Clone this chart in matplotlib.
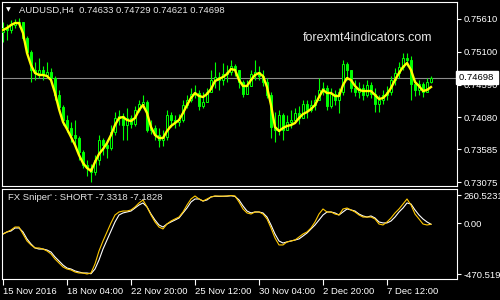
import numpy as np
import matplotlib.pyplot as plt

# AUDUSD H4 candles
first_open = 0.75407
close = [0.75470, 0.75439, 0.75516, 0.75547, 0.75563, 0.75314, 0.75096, 0.74817, 0.74770, 0.74817,
         0.74739, 0.74785, 0.74692, 0.74428, 0.74241, 0.74039, 0.73915, 0.73806, 0.73759, 0.73541,
         0.73339, 0.73293, 0.73230, 0.73417, 0.73728, 0.73650, 0.73604, 0.73852, 0.74070, 0.74101,
         0.73961, 0.74070, 0.73977, 0.74195, 0.74288, 0.74319, 0.73884, 0.73915, 0.73806, 0.73728,
         0.73775, 0.74117, 0.74039, 0.74008, 0.74039, 0.74272, 0.74350, 0.74443, 0.74459, 0.74257,
         0.74319, 0.74474, 0.74661, 0.74708, 0.74661, 0.74754, 0.74785, 0.74879, 0.74817, 0.74630,
         0.74443, 0.74568, 0.74754, 0.74785, 0.74723, 0.74630, 0.74428, 0.73930, 0.73884, 0.74117,
         0.73884, 0.74008, 0.74039, 0.74148, 0.74070, 0.74288, 0.74195, 0.74272, 0.74350, 0.74506,
         0.74537, 0.74257, 0.74443, 0.74350, 0.74474, 0.74910, 0.74817, 0.74537, 0.74474, 0.74537,
         0.74428, 0.74583, 0.74443, 0.74288, 0.74350, 0.74428, 0.74474, 0.74661, 0.74770, 0.74863,
         0.75003, 0.74972, 0.74599, 0.74506, 0.74599, 0.74474, 0.74633, 0.74698]
high = [0.75563, 0.75532, 0.75594, 0.75610, 0.75625, 0.75563, 0.75345, 0.75128, 0.74941, 0.75003,
        0.74879, 0.74941, 0.74848, 0.74723, 0.74506, 0.74272, 0.74117, 0.74008, 0.74039, 0.73790,
        0.73573, 0.73417, 0.73355, 0.73495, 0.73806, 0.73759, 0.73728, 0.73961, 0.74163, 0.74195,
        0.74148, 0.74226, 0.74117, 0.74257, 0.74350, 0.74428, 0.74350, 0.74039, 0.73961, 0.73915,
        0.73884, 0.74195, 0.74163, 0.74117, 0.74132, 0.74350, 0.74428, 0.74537, 0.74583, 0.74506,
        0.74474, 0.74537, 0.74817, 0.74941, 0.74785, 0.74925, 0.74894, 0.74972, 0.74910, 0.74817,
        0.74661, 0.74661, 0.74817, 0.74972, 0.74879, 0.74817, 0.74692, 0.74474, 0.74163, 0.74195,
        0.74148, 0.74117, 0.74195, 0.74226, 0.74257, 0.74350, 0.74350, 0.74350, 0.74428, 0.74692,
        0.74630, 0.74583, 0.74537, 0.74506, 0.74537, 0.74972, 0.74941, 0.74817, 0.74661, 0.74630,
        0.74599, 0.74661, 0.74630, 0.74537, 0.74428, 0.74506, 0.74568, 0.74723, 0.74848, 0.74941,
        0.75081, 0.75081, 0.75034, 0.74661, 0.74661, 0.74630, 0.74692, 0.74729]
low = [0.75252, 0.75283, 0.75392, 0.75470, 0.75485, 0.75283, 0.75050, 0.74630, 0.74661, 0.74692,
       0.74661, 0.74692, 0.74630, 0.74350, 0.74163, 0.73961, 0.73852, 0.73697, 0.73650, 0.73417,
       0.73293, 0.73168, 0.73075, 0.73184, 0.73339, 0.73495, 0.73448, 0.73573, 0.73806, 0.73961,
       0.73728, 0.73728, 0.73915, 0.73946, 0.74163, 0.74226, 0.73852, 0.73821, 0.73728, 0.73619,
       0.73635, 0.73728, 0.73930, 0.73915, 0.73946, 0.74008, 0.74226, 0.74319, 0.74381, 0.74195,
       0.74226, 0.74350, 0.74474, 0.74537, 0.74506, 0.74583, 0.74630, 0.74739, 0.74723, 0.74537,
       0.74397, 0.74474, 0.74568, 0.74661, 0.74661, 0.74568, 0.74381, 0.73759, 0.73697, 0.73806,
       0.73728, 0.73884, 0.73915, 0.74008, 0.73977, 0.74101, 0.74070, 0.74163, 0.74195, 0.74350,
       0.74428, 0.74195, 0.74226, 0.74272, 0.74148, 0.74428, 0.74661, 0.74474, 0.74412, 0.74381,
       0.74350, 0.74397, 0.74381, 0.74163, 0.74163, 0.74288, 0.74350, 0.74428, 0.74583, 0.74692,
       0.74817, 0.74879, 0.74350, 0.74412, 0.74428, 0.74397, 0.74474, 0.74621]

# yellow moving average on the price window
ma = [0.75439, 0.75470, 0.75516, 0.75547, 0.75547, 0.75392, 0.75081, 0.74894, 0.74770, 0.74739,
      0.74739, 0.74723, 0.74661, 0.74459, 0.74210, 0.74008, 0.73899, 0.73775, 0.73650, 0.73495,
      0.73370, 0.73293, 0.73246, 0.73386, 0.73510, 0.73588, 0.73681, 0.73806, 0.73961, 0.74070,
      0.74086, 0.74039, 0.74023, 0.74070, 0.74195, 0.74272, 0.74148, 0.73930, 0.73806, 0.73759,
      0.73759, 0.73868, 0.73946, 0.73992, 0.74039, 0.74148, 0.74272, 0.74381, 0.74459, 0.74412,
      0.74397, 0.74443, 0.74521, 0.74645, 0.74677, 0.74708, 0.74754, 0.74832, 0.74817, 0.74661,
      0.74568, 0.74568, 0.74661, 0.74739, 0.74770, 0.74723, 0.74552, 0.74272, 0.73930, 0.73868,
      0.73915, 0.73946, 0.73961, 0.73992, 0.74070, 0.74132, 0.74163, 0.74210, 0.74272, 0.74397,
      0.74506, 0.74459, 0.74459, 0.74412, 0.74412, 0.74583, 0.74692, 0.74661, 0.74568, 0.74506,
      0.74490, 0.74490, 0.74490, 0.74428, 0.74366, 0.74381, 0.74443, 0.74537, 0.74661, 0.74770,
      0.74863, 0.74925, 0.74817, 0.74630, 0.74568, 0.74490, 0.74506, 0.74552]

# FX Sniper lines
sniper_yellow = [-98, -79, -61, -33, -33, -98, -163, -200, -228, -228,
                 -238, -256, -284, -331, -368, -405, -424, -433, -452, -461,
                 -461, -470.5192, -461, -377, -256, -163, -79, 5, 79, 107,
                 116, 116, 126, 154, 191, 219, 154, 79, 14, -33,
                 -51, -5, 23, 42, 60, 107, 172, 228, 256, 228,
                 209, 228, 247, 256, 255, 254, 256, 260.5231, 256, 200,
                 135, 98, 88, 107, 107, 88, 42, -42, -135, -200,
                 -200, -172, -163, -154, -126, -98, -79, -42, 14, 88,
                 135, 107, 107, 88, 79, 135, 144, 126, 107, 79,
                 60, 60, 60, 42, -5, -14, 14, 51, 98, 135,
                 181, 228, 172, 88, 42, -5, -14, -7.3318]
sniper_white = [-98, -79, -70, -42, -42, -79, -144, -191, -228, -238,
                -238, -247, -266, -312, -349, -387, -415, -424, -442, -452,
                -461, -461, -468, -424, -340, -238, -154, -70, 14, 79,
                98, 107, 116, 144, 172, 191, 154, 88, 32, -14,
                -33, -5, 14, 32, 51, 98, 144, 200, 228, 228,
                209, 219, 247, 254, 252, 253, 254, 258, 252, 219,
                163, 116, 98, 107, 107, 98, 60, -14, -98, -163,
                -182, -172, -163, -154, -144, -117, -89, -51, -14, 32,
                79, 107, 107, 98, 79, 107, 135, 126, 116, 88,
                70, 60, 70, 51, 14, 5, 5, 23, 60, 107,
                144, 191, 181, 126, 79, 42, 14, -7.1828]

price_ticks = [0.75610, 0.75100, 0.74590, 0.74080, 0.73585, 0.73075]
sub_ticks = [260.5231, 0.0, -470.5192]
sub_tick_labels = ['260.5231', '0.00', '-470.5192']
time_ticks = [0, 16, 32, 48, 64, 80, 96]
time_labels = ['15 Nov 2016', '18 Nov 04:00', '22 Nov 20:00', '25 Nov 12:00',
               '30 Nov 04:00', '2 Dec 20:00', '7 Dec 12:00']
last_price = 0.74698

plt.rcParams['font.family'] = ['Liberation Sans', 'DejaVu Sans']

close = np.array(close)
high = np.array(high)
low = np.array(low)
open_ = np.concatenate([[first_open], close[:-1]])
idx = np.arange(len(close))

fig = plt.figure(figsize=(5, 3), dpi=100, facecolor='black')
ax = fig.add_axes([0.004, 0.38, 0.91, 0.6133], facecolor='black')
ax2 = fig.add_axes([0.004, 0.07, 0.91, 0.30], facecolor='black')

green = '#00ff00'
ax.axhline(last_price, color='#8c8c8c', lw=0.8, zorder=1)
ax.vlines(idx, low, high, color=green, lw=0.8, zorder=2)
up = close >= open_
bottom = np.minimum(open_, close)
height = np.maximum(np.abs(close - open_), 0.00003)
ax.bar(idx[up], height[up], bottom=bottom[up], width=0.55,
       facecolor='black', edgecolor=green, lw=0.7, zorder=3)
ax.bar(idx[~up], height[~up], bottom=bottom[~up], width=0.55,
       facecolor=green, edgecolor=green, lw=0.7, zorder=3)
ax.plot(idx, ma, color='#ffff00', lw=1.7, zorder=4)

ax2.plot(idx, sniper_white, color='white', lw=0.8)
ax2.plot(idx, sniper_yellow, color='#ffc800', lw=0.8)

for a in (ax, ax2):
    a.set_xlim(-0.25, 113.5)
    for s in a.spines.values():
        s.set_color('white')
        s.set_linewidth(0.8)
    a.yaxis.tick_right()
    a.tick_params(axis='y', colors='white', length=3, width=0.8, labelsize=6.8, pad=2)

ax.set_ylim(0.73013, 0.75874)
ax.set_yticks(price_ticks)
ax.set_yticklabels([f'{p:.5f}' for p in price_ticks])
ax.set_xticks([])

ax2.set_ylim(-517, 321)
ax2.set_yticks(sub_ticks)
ax2.set_yticklabels(sub_tick_labels)
ax2.set_xticks(time_ticks)
ax2.set_xticklabels(time_labels)
ax2.tick_params(axis='x', colors='white', length=4, width=0.8, labelsize=6.8, pad=2)
for lab in ax2.get_xticklabels():
    lab.set_horizontalalignment('left')

ax.text(1.004, last_price, '0.74698 ', transform=ax.get_yaxis_transform(),
        ha='left', va='center', color='black', fontsize=6.8, clip_on=False, zorder=10,
        bbox=dict(boxstyle='square,pad=0.25', facecolor='white', edgecolor='white'))

fig.text(6 / 500, 1 - 10 / 300, '\u25bc', color='white', fontsize=4.5, va='center',
         family='DejaVu Sans')
fig.text(19 / 500, 1 - 10 / 300, 'AUDUSD,H4  0.74633 0.74729 0.74621 0.74698',
         color='#e6e6e6', fontsize=6.8, va='center')
fig.text(303 / 500, 1 - 38 / 300, 'forexmt4indicators.com', color='#e6e6e6',
         fontsize=9, va='center')
fig.text(8 / 500, 1 - 198 / 300, "FX Sniper' : SHORT -7.3318 -7.1828", color='#e6e6e6',
         fontsize=6.8, va='center')

fig.savefig('out.png', dpi=100, facecolor='black')
